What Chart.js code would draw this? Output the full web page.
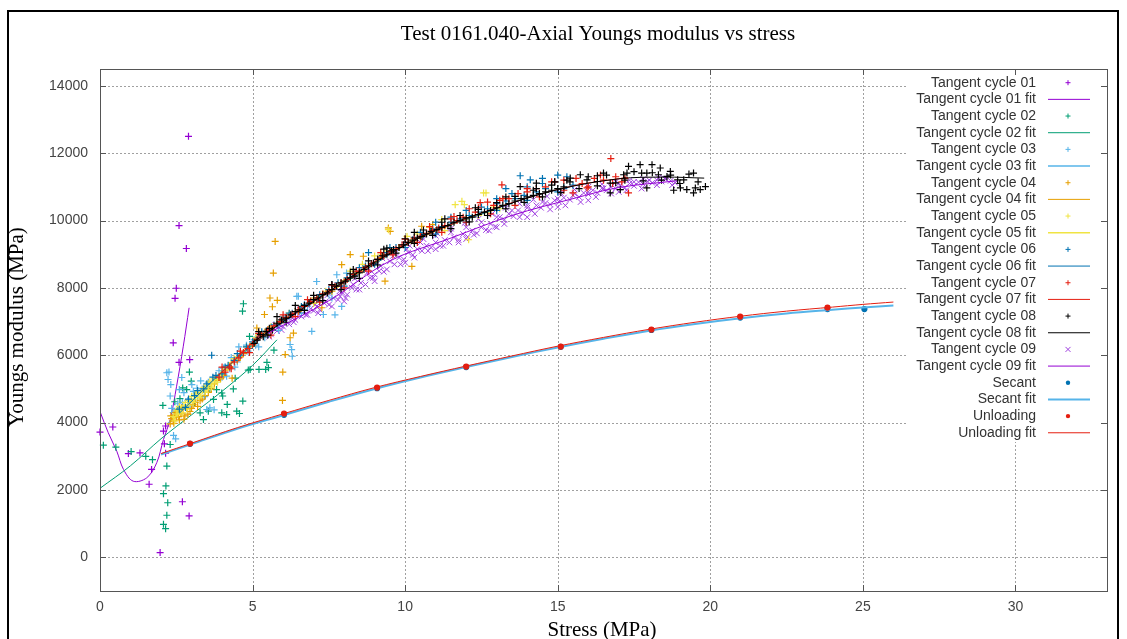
<!DOCTYPE html>
<html>
<head>
<meta charset="utf-8">
<script src="https://cdn.jsdelivr.net/npm/chart.js@4.4.1/dist/chart.umd.min.js"></script>
<style>
  html, body { margin: 0; padding: 0; background: #fff; }
  canvas { display: block; }
</style>
</head>
<body>
<canvas id="chart" width="1127" height="639"></canvas>
<script>
// axis ticks
const xTicks = [0, 5, 10, 15, 20, 25, 30];
const yTicks = [0, 2000, 4000, 6000, 8000, 10000, 12000, 14000];

// [stress MPa, modulus MPa]
const cycle01 = [[0.00,3720],[0.42,3870],[0.93,3080],[1.31,3100],[1.61,2170],[1.69,2610],[1.97,140],[2.08,3750],[2.11,3370],[2.15,3090],[2.15,3900],[2.40,6370],[2.46,7690],[2.50,7990],[2.59,5790],[2.59,9850],[2.70,1650],[2.83,9170],[2.90,12500],[2.92,1230],[2.94,5870]];
const cycle01Fit = [[0,4330],[0.27,3700],[0.55,3150],[0.77,2610],[1.09,2260],[1.53,2360],[1.86,2810],[2.08,3500],[2.3,4090],[2.51,5080],[2.73,6270],[2.92,7410]];

const cycle02 = [[0.11,3330],[0.52,3270],[1.02,3140],[1.50,3000],[1.72,2900],[2.06,4510],[2.08,1890],[2.08,980],[2.15,850],[2.16,2120],[2.19,2710],[2.19,1250],[2.22,1620],[2.30,3350],[2.45,4620],[2.55,4380],[2.62,4710],[2.71,5030],[2.84,4980],[2.93,5500],[2.99,5230],[3.10,4600],[3.28,4290],[3.39,4090],[3.50,5080],[3.55,4340],[3.60,5000],[3.72,4690],[3.82,4980],[3.99,4290],[3.99,4880],[4.02,4790],[4.15,4240],[4.17,4540],[4.37,5000],[4.43,5320],[4.48,4340],[4.57,4270],[4.67,7310],[4.68,4640],[4.70,7530],[4.86,5560],[4.90,6560],[4.92,5580],[5.21,5580],[5.43,5580],[5.47,5790],[5.52,5630],[5.70,6150]];
const cycle02Fit = [[0,2050],[1,2720],[2,3520],[3,4230],[4,4930],[5,5700],[5.8,6460]];

const cycle03 = [[2.19,5480],[2.23,5280],[2.26,5500],[2.30,4790],[2.32,5130],[2.35,4420],[2.40,4300],[2.41,3620],[2.48,3520],[2.51,4340],[2.55,4560],[2.60,4980],[2.68,5340],[2.70,4600],[2.75,4890],[2.88,4660],[2.95,4500],[3.01,5130],[3.06,4930],[3.18,5020],[3.20,4750],[3.30,5240],[3.35,5000],[3.42,4770],[3.50,4390],[3.55,5200],[3.60,4440],[3.74,4380],[3.80,5300],[3.90,5540],[4.00,5350],[4.05,5620],[4.15,5380],[4.25,5600],[4.30,5930],[4.42,5650],[4.50,5800],[4.55,6250],[4.70,6050],[4.80,6300],[4.85,6120],[5.05,6460],[5.10,6300],[5.20,6250],[5.40,6520],[5.50,6650],[5.62,6850],[5.85,6740],[5.90,6950],[6.05,7080],[6.20,7150],[6.23,6320],[6.28,6170],[6.30,5970],[6.45,7750],[6.50,7750],[6.60,7250],[6.70,7350],[6.80,7460],[6.94,6710],[7.10,8190],[7.20,7600],[7.32,7210],[7.50,7820],[7.60,7700],[7.70,7200],[7.76,8390],[7.92,7450],[8.08,8440]];
const cycle03Fit = [[2.2,3950],[3.0,4650],[4.0,5500],[5.0,6330],[6.0,7040],[7.0,7600],[8.0,8150]];

const cycle04 = [[2.30,3960],[2.32,4200],[2.35,4120],[2.40,4050],[2.42,3980],[2.45,4230],[2.48,4300],[2.50,4150],[2.55,4310],[2.58,4180],[2.60,4080],[2.65,4260],[2.68,4450],[2.72,4390],[2.75,4100],[2.78,4200],[2.85,4420],[2.88,4250],[2.95,4330],[3.00,4420],[3.05,4540],[3.12,4600],[3.20,4480],[3.28,4650],[3.35,4700],[3.45,4800],[3.55,4900],[3.65,5000],[3.75,5150],[3.85,5250],[3.95,5300],[4.05,5400],[4.10,5560],[4.25,5650],[4.33,5320],[4.50,5850],[4.60,5950],[4.70,6050],[4.90,6250],[5.00,6300],[5.10,6480],[5.14,6810],[5.30,6650],[5.39,7210],[5.50,6700],[5.57,7700],[5.65,7440],[5.68,8440],[5.74,9380],[5.81,7630],[5.98,4660],[5.99,5500],[6.00,7050],[6.07,6020],[6.23,6520],[6.34,6660],[6.50,7300],[7.00,7550],[7.00,7700],[7.27,7410],[7.60,7900],[7.92,8690],[8.00,8200],[8.20,8990],[8.50,8450],[8.63,8940],[8.80,8650],[9.20,8900],[9.34,8200],[9.45,9780],[9.51,9680],[9.60,9100],[9.80,9200],[10.22,8640],[10.30,9400],[10.50,9500],[10.54,9830],[10.90,9880]];
const cycle04Fit = [[2.3,4030],[3.5,5080],[5.0,6360],[6.5,7330],[8.0,8150],[9.5,9030],[10.9,9700]];

const cycle05 = [[2.40,4180],[2.45,4050],[2.50,4350],[2.55,4250],[2.60,4480],[2.65,4400],[2.70,4290],[2.75,4500],[2.80,4600],[2.85,4400],[2.90,4520],[2.95,4650],[3.00,4780],[3.05,4600],[3.10,4700],[3.15,4850],[3.20,4900],[3.25,4750],[3.30,4820],[3.35,4950],[3.40,5050],[3.45,4900],[3.50,4980],[3.55,5100],[3.60,5230],[3.65,5050],[3.70,5150],[3.75,5300],[3.80,5280],[3.85,5200],[3.95,5420],[4.00,5450],[4.10,5600],[4.20,5650],[4.30,5780],[4.40,5900],[4.50,5950],[4.60,6050],[4.80,6250],[5.00,6350],[5.10,6520],[5.40,6700],[5.60,6850],[5.80,6950],[6.20,7250],[6.40,7300],[6.60,7450],[7.00,7550],[7.20,7750],[7.40,7900],[7.80,8100],[8.20,8500],[8.40,8450],[8.60,8700],[9.00,8950],[9.20,9000],[9.40,9100],[9.45,9730],[9.80,9200],[10.06,9530],[10.20,9400],[10.40,9600],[10.80,9800],[11.00,9700],[11.20,10030],[11.30,9700],[11.64,10470],[11.86,10570],[11.94,10470],[12.00,10050],[12.08,9430],[12.40,10150],[12.57,10820],[12.65,10820],[12.70,10250],[12.90,10400],[13.10,10350]];
const cycle05Fit = [[2.4,4120],[4.0,5500],[6.0,7040],[8.0,8150],[10.0,9280],[11.5,9870],[13.1,10380]];

const cycle06 = [[2.60,4400],[2.80,4450],[2.90,4700],[3.10,4800],[3.20,4950],[3.40,5000],[3.50,5150],[3.66,6000],[3.70,5350],[3.80,5400],[4.00,5450],[4.10,5650],[4.20,5700],[4.40,5850],[4.50,6050],[4.60,6000],[4.80,6250],[4.90,6200],[5.00,6400],[5.20,6520],[5.30,6700],[5.45,6720],[5.70,6900],[5.80,6900],[6.00,7100],[6.20,7250],[6.30,7250],[6.60,7450],[6.70,7500],[6.90,7600],[7.10,7650],[7.20,7800],[7.50,7950],[7.60,8100],[7.80,8150],[8.00,8050],[8.10,8300],[8.40,8500],[8.50,8600],[8.70,8650],[8.80,9050],[9.00,8700],[9.10,8850],[9.40,9050],[9.50,9200],[9.70,9200],[10.00,9350],[10.00,9200],[10.30,9500],[10.50,9650],[10.60,9580],[10.90,9750],[11.00,9600],[11.00,9950],[11.20,9820],[11.50,9950],[11.50,10100],[11.80,10050],[12.00,9950],[12.00,10300],[12.10,10150],[12.40,10250],[12.50,10400],[12.70,10350],[13.00,10500],[13.00,10300],[13.00,10650],[13.30,10580],[13.30,10950],[13.50,10800],[13.60,10650],[13.77,11330],[13.90,10750],[14.00,10600],[14.00,11000],[14.10,11210],[14.30,10850],[14.50,11100],[14.50,11250],[14.60,10950],[14.90,11150],[15.00,11350],[15.00,10850],[15.20,10950],[15.30,11300],[15.50,11050]];
const cycle06Fit = [[2.6,4280],[4.5,5920],[6.5,7330],[8.5,8420],[10.5,9510],[12.5,10190],[14.0,10670],[15.5,11030]];

const cycle07 = [[3.90,5350],[4.00,5650],[4.10,5500],[4.25,5650],[4.30,5600],[4.40,5800],[4.55,5920],[4.60,6120],[4.70,6080],[4.85,6200],[4.90,6080],[5.00,6330],[5.15,6480],[5.20,6650],[5.30,6600],[5.50,6750],[5.60,6600],[5.70,6870],[5.90,7000],[6.00,7200],[6.10,7120],[6.30,7220],[6.40,7150],[6.50,7350],[6.70,7450],[6.80,7650],[6.90,7600],[7.10,7700],[7.20,7580],[7.30,7820],[7.50,7900],[7.60,8080],[7.70,8050],[7.90,8150],[8.00,8000],[8.10,8250],[8.30,8400],[8.40,8500],[8.50,8480],[8.70,8600],[8.80,8500],[8.90,8720],[9.10,8850],[9.20,9050],[9.30,8950],[9.50,9080],[9.60,8980],[9.70,9150],[9.90,9280],[10.00,9450],[10.10,9350],[10.30,9480],[10.40,9350],[10.50,9530],[10.70,9620],[10.80,9820],[10.90,9700],[11.10,9780],[11.20,9650],[11.30,9850],[11.50,10050],[11.60,10120],[11.70,10000],[11.90,10100],[12.00,9950],[12.10,10350],[12.30,10250],[12.40,10380],[12.46,10530],[12.70,10550],[12.80,10200],[12.90,10450],[13.10,10600],[13.17,11060],[13.20,10650],[13.40,10650],[13.60,10450],[13.70,10800],[14.00,10850],[14.00,10950],[14.30,10950],[14.40,10700],[14.60,11000],[14.80,11150],[14.90,11150],[15.20,11200],[15.20,10900],[15.50,10820],[15.60,11250],[15.80,11100],[15.96,10970],[16.00,11000],[16.20,11250],[16.40,11350],[16.50,11200],[16.74,11840],[16.80,11100],[16.90,11300],[17.10,11150],[17.20,11250],[17.32,10820]];
const cycle07Fit = [[3.9,5420],[5.5,6740],[7.5,7870],[9.5,9060],[11.5,9880],[13.5,10530],[15.5,11030],[17.3,11280]];

const cycle08 = [[5.05,6350],[5.15,6450],[5.20,6700],[5.25,6610],[5.35,6550],[5.45,6700],[5.50,6600],[5.55,6800],[5.65,6750],[5.80,6950],[5.80,7150],[5.95,7050],[6.10,7100],[6.10,6980],[6.25,7200],[6.40,7300],[6.40,7480],[6.55,7350],[6.70,7480],[6.70,7330],[6.85,7550],[7.00,7650],[7.00,7780],[7.15,7700],[7.30,7800],[7.30,7620],[7.45,7850],[7.60,7950],[7.60,8100],[7.75,8050],[7.90,8150],[7.90,7950],[8.05,8200],[8.20,8300],[8.20,8420],[8.30,8550],[8.35,8350],[8.50,8450],[8.50,8280],[8.65,8550],[8.80,8650],[8.80,8800],[8.96,8740],[9.10,8850],[9.10,8680],[9.25,8950],[9.30,9150],[9.40,9000],[9.40,9180],[9.55,9100],[9.62,9140],[9.70,9030],[9.80,9200],[9.95,9280],[10.00,9460],[10.10,9350],[10.25,9420],[10.30,9320],[10.30,9650],[10.40,9480],[10.55,9530],[10.60,9720],[10.70,9600],[10.85,9680],[10.90,9560],[11.04,9730],[11.20,9800],[11.20,9950],[11.30,10050],[11.40,9850],[11.50,9760],[11.60,9950],[11.80,10000],[11.80,10150],[12.00,10080],[12.10,9960],[12.20,10100],[12.30,10380],[12.40,10180],[12.40,10330],[12.60,10250],[12.70,10150],[12.80,10300],[13.00,10380],[13.00,10530],[13.20,10450],[13.30,10350],[13.30,10700],[13.40,10500],[13.60,10580],[13.60,10720],[13.77,11010],[13.80,10650],[13.90,10540],[14.00,10700],[14.20,10750],[14.20,10900],[14.30,11110],[14.30,10950],[14.40,10800],[14.50,10700],[14.60,10850],[14.80,10900],[14.80,11050],[14.90,11150],[15.00,10950],[15.10,10830],[15.20,11000],[15.30,11200],[15.40,11150],[15.41,11260],[15.70,10950],[15.74,11360],[15.96,11210],[16.00,11300],[16.30,11160],[16.30,11030],[16.30,11330],[16.50,11410],[16.60,11350],[16.72,11110],[16.72,10820],[16.90,11120],[17.05,10920],[17.16,11360],[17.20,11200],[17.27,11410],[17.32,11610],[17.50,11450],[17.70,11660],[17.75,11410],[17.80,11180],[17.92,11410],[17.92,10970],[18.09,11660],[18.10,11420],[18.30,11360],[18.36,11560],[18.40,11200],[18.58,11310],[18.69,11460],[18.70,11350],[18.80,10900],[18.93,11210],[19.00,11100],[19.02,10970],[19.13,11210],[19.23,10920],[19.30,11380],[19.45,11410],[19.45,10820],[19.51,10970],[19.60,11150],[19.67,10920],[19.84,11010]];
const cycle08Fit = [[5.0,6380],[7.0,7600],[9.0,8760],[11.0,9720],[13.0,10370],[15.0,10920],[17.0,11240],[18.5,11290],[19.8,11260]];

const cycle09 = [[5.50,6700],[5.55,6550],[5.60,6620],[5.70,6800],[5.75,6900],[5.80,6720],[5.90,6900],[5.95,6750],[6.00,6850],[6.10,7000],[6.15,7150],[6.20,6920],[6.30,7100],[6.35,6980],[6.40,7050],[6.50,7200],[6.55,7350],[6.60,7150],[6.70,7300],[6.75,7200],[6.80,7200],[6.90,7380],[6.95,7550],[7.00,7320],[7.05,7520],[7.10,7450],[7.15,7250],[7.20,7350],[7.35,7550],[7.40,7600],[7.45,7780],[7.50,7500],[7.60,7450],[7.65,7700],[7.80,7650],[7.85,7900],[7.87,7750],[7.90,8020],[7.95,7850],[8.00,7600],[8.05,7700],[8.10,7800],[8.25,8000],[8.30,8100],[8.35,8280],[8.40,7950],[8.50,7950],[8.55,8150],[8.70,8100],[8.75,8450],[8.80,8580],[8.85,8300],[8.95,8300],[9.00,8400],[9.00,8200],[9.15,8500],[9.20,8650],[9.25,8880],[9.30,8480],[9.40,8550],[9.50,8790],[9.60,8950],[9.65,8700],[9.70,9050],[9.80,8900],[9.85,8700],[9.95,8850],[10.00,8750],[10.05,9150],[10.10,9050],[10.15,9250],[10.25,8980],[10.30,8900],[10.40,9150],[10.50,9350],[10.55,9100],[10.60,9450],[10.70,9250],[10.75,9100],[10.85,9200],[11.00,9350],[11.00,9550],[11.00,9150],[11.05,9620],[11.15,9250],[11.25,9250],[11.30,9420],[11.45,9350],[11.50,9650],[11.50,9760],[11.60,9500],[11.75,9420],[11.75,9350],[11.90,9600],[11.95,9930],[12.00,9800],[12.00,9450],[12.05,9520],[12.20,9700],[12.25,9580],[12.35,9620],[12.40,10050],[12.50,9800],[12.50,9950],[12.65,9720],[12.75,9700],[12.80,9900],[12.85,10200],[12.95,9820],[13.00,10100],[13.00,9800],[13.10,10100],[13.25,10020],[13.25,9900],[13.30,10380],[13.40,10200],[13.50,10300],[13.55,10130],[13.70,10300],[13.75,10100],[13.75,10500],[13.85,10220],[14.00,10380],[14.00,10450],[14.00,10100],[14.15,10300],[14.20,10620],[14.25,10200],[14.30,10450],[14.45,10380],[14.50,10550],[14.60,10520],[14.65,10720],[14.75,10480],[14.75,10330],[14.90,10600],[15.00,10650],[15.00,10400],[15.05,10550],[15.10,10820],[15.20,10680],[15.25,10450],[15.40,10620],[15.50,10750],[15.55,10800],[15.55,10920],[15.70,10700],[15.75,10550],[15.85,10820],[16.00,10780],[16.00,10850],[16.00,11000],[16.00,10600],[16.15,10900],[16.25,10700],[16.30,10820],[16.45,10960],[16.45,11080],[16.50,10950],[16.60,10900],[16.75,11000],[16.75,10800],[16.90,10950],[16.90,11150],[17.00,11100],[17.00,10850],[17.05,11050],[17.20,10980],[17.25,10900],[17.35,11100],[17.35,11200],[17.50,11030],[17.50,11150],[17.65,11140],[17.75,10950],[17.80,11080],[17.80,11230],[17.95,11160],[18.00,11200],[18.10,11120],[18.25,11200],[18.25,11050],[18.30,11270],[18.40,11160],[18.50,11250],[18.55,11230],[18.70,11180],[18.75,11050],[18.85,11120]];
const cycle09Fit = [[5.5,6650],[7.5,7620],[9.5,8800],[11.5,9480],[13.5,10150],[15.5,10650],[17.0,10980],[18.9,11180]];

const secant = [[2.95,3370],[6.03,4230],[9.08,5020],[12.00,5650],[15.10,6250],[18.07,6750],[20.98,7120],[23.84,7370],[25.05,7370]];
const secantFit = [[2.0,3050],[3.0,3360],[4.5,3820],[6.0,4220],[7.5,4620],[9.0,5000],[10.5,5340],[12.0,5650],[13.5,5950],[15.0,6230],[16.5,6490],[18.0,6730],[19.5,6930],[21.0,7100],[22.5,7240],[24.0,7350],[25.0,7420],[26.0,7480]];
const unloading = [[2.95,3380],[6.03,4270],[9.08,5040],[12.00,5665],[15.10,6258],[18.07,6762],[20.98,7148],[23.84,7415]];
const unloadingFit = [[2.0,3080],[3.0,3390],[4.5,3850],[6.0,4260],[7.5,4660],[9.0,5040],[10.5,5370],[12.0,5680],[13.5,5980],[15.0,6270],[16.5,6530],[18.0,6770],[19.5,6980],[21.0,7160],[22.5,7310],[24.0,7430],[25.0,7510],[26.0,7580]];

const toXY = list => list.map(p => ({ x: p[0], y: p[1] }));

function marks(label, list, color, style, radius, width) {
  return {
    label, data: toXY(list), showLine: false,
    pointStyle: style, pointRadius: radius, pointHoverRadius: radius,
    borderColor: color, backgroundColor: color, pointBorderWidth: width || 1.2, clip: false
  };
}
function fitLine(label, list, color, width) {
  return {
    label, data: toXY(list), showLine: true, pointRadius: 0,
    borderColor: color, backgroundColor: color, borderWidth: width, tension: 0.35
  };
}

const datasets = [
  marks('Tangent cycle 01', cycle01, '#9400D3', 'cross', 3.5),
  fitLine('Tangent cycle 01 fit', cycle01Fit, '#9400D3', 1),
  marks('Tangent cycle 02', cycle02, '#009E73', 'cross', 3.5),
  fitLine('Tangent cycle 02 fit', cycle02Fit, '#009E73', 1),
  marks('Tangent cycle 03', cycle03, '#56B4E9', 'cross', 3.5),
  fitLine('Tangent cycle 03 fit', cycle03Fit, '#56B4E9', 1.5),
  marks('Tangent cycle 04', cycle04, '#E69F00', 'cross', 3.5),
  fitLine('Tangent cycle 04 fit', cycle04Fit, '#E69F00', 1),
  marks('Tangent cycle 05', cycle05, '#F0E442', 'cross', 3.5),
  fitLine('Tangent cycle 05 fit', cycle05Fit, '#F0E442', 1.5),
  marks('Tangent cycle 06', cycle06, '#0072B2', 'cross', 3.5),
  fitLine('Tangent cycle 06 fit', cycle06Fit, '#0072B2', 1),
  marks('Tangent cycle 07', cycle07, '#E51E10', 'cross', 3.5),
  fitLine('Tangent cycle 07 fit', cycle07Fit, '#E51E10', 1),
  marks('Tangent cycle 08', cycle08, '#000000', 'cross', 3.5),
  fitLine('Tangent cycle 08 fit', cycle08Fit, '#000000', 1),
  marks('Tangent cycle 09', cycle09, '#A040E0', 'crossRot', 4, 1),
  fitLine('Tangent cycle 09 fit', cycle09Fit, '#9400D3', 1),
  marks('Secant', secant, '#0072B2', 'circle', 2.5),
  fitLine('Secant fit', secantFit, '#56B4E9', 2),
  marks('Unloading', unloading, '#E51E10', 'circle', 2.5),
  fitLine('Unloading fit', unloadingFit, '#E51E10', 1)
];
// later plots on top, except the dense cycle 09 crosses which sit under the band
datasets.forEach((ds, i) => { ds.order = 100 - i; });
datasets[16].order = 200;

const box = { left: 100, right: 1107, top: 69, bottom: 591 };

const gnuplotLook = {
  id: 'gnuplotLook',
  beforeDatasetsDraw(chart) {
    // dotted grid
    const ctx = chart.ctx;
    const xs = chart.scales.x, ys = chart.scales.y;
    ctx.save();
    ctx.strokeStyle = '#a0a0a0';
    ctx.lineWidth = 1;
    ctx.setLineDash([2, 2]);
    ctx.beginPath();
    xTicks.forEach(v => {
      const px = Math.round(xs.getPixelForValue(v)) + 0.5;
      ctx.moveTo(px, box.top); ctx.lineTo(px, box.bottom);
    });
    yTicks.forEach(v => {
      const py = Math.round(ys.getPixelForValue(v)) + 0.5;
      ctx.moveTo(box.left, py); ctx.lineTo(box.right, py);
    });
    ctx.stroke();
    ctx.restore();
  },
  afterDraw(chart) {
    const ctx = chart.ctx;
    const xs = chart.scales.x, ys = chart.scales.y;
    ctx.save();

    // key, opaque like gnuplot's
    ctx.fillStyle = '#fff';
    ctx.fillRect(906, 73, 196, 369);
    ctx.font = '14px "Liberation Sans", Arial, sans-serif';
    ctx.textAlign = 'right';
    ctx.textBaseline = 'middle';
    chart.data.datasets.forEach((ds, i) => {
      const y = 82.7 + i * 16.67;
      ctx.fillStyle = '#333';
      ctx.fillText(ds.label, 1036, y);
      ctx.strokeStyle = ds.borderColor;
      ctx.fillStyle = ds.borderColor;
      ctx.lineWidth = ds.showLine ? ds.borderWidth : 1;
      ctx.beginPath();
      if (ds.showLine) {
        ctx.moveTo(1048, y); ctx.lineTo(1090, y); ctx.stroke();
      } else if (ds.pointStyle === 'cross') {
        ctx.moveTo(1065.5, y); ctx.lineTo(1070.5, y);
        ctx.moveTo(1068, y - 2.5); ctx.lineTo(1068, y + 2.5); ctx.stroke();
      } else if (ds.pointStyle === 'crossRot') {
        ctx.moveTo(1065.5, y - 2.5); ctx.lineTo(1070.5, y + 2.5);
        ctx.moveTo(1065.5, y + 2.5); ctx.lineTo(1070.5, y - 2.5); ctx.stroke();
      } else {
        ctx.arc(1068, y, 2.2, 0, Math.PI * 2); ctx.fill();
      }
    });

    // plot border and inward tick marks
    ctx.strokeStyle = '#555';
    ctx.lineWidth = 1;
    ctx.strokeRect(box.left + 0.5, box.top + 0.5, box.right - box.left, box.bottom - box.top);
    ctx.beginPath();
    xTicks.forEach(v => {
      const px = Math.round(xs.getPixelForValue(v)) + 0.5;
      ctx.moveTo(px, box.bottom); ctx.lineTo(px, box.bottom - 6);
      ctx.moveTo(px, box.top); ctx.lineTo(px, box.top + 6);
    });
    yTicks.forEach(v => {
      const py = Math.round(ys.getPixelForValue(v)) + 0.5;
      ctx.moveTo(box.left, py); ctx.lineTo(box.left + 6, py);
      ctx.moveTo(box.right, py); ctx.lineTo(box.right - 6, py);
    });
    ctx.stroke();

    // outer frame
    ctx.strokeStyle = '#000';
    ctx.lineWidth = 2;
    ctx.beginPath();
    ctx.moveTo(8, 660); ctx.lineTo(8, 11); ctx.lineTo(1118, 11); ctx.lineTo(1118, 660);
    ctx.stroke();

    // titles
    ctx.fillStyle = '#000';
    ctx.font = '21px "Liberation Serif", "Times New Roman", serif';
    ctx.textAlign = 'center';
    ctx.textBaseline = 'alphabetic';
    ctx.fillText('Test 0161.040-Axial Youngs modulus vs stress', 598, 40);
    ctx.fillText('Stress (MPa)', 602, 636);
    ctx.translate(23, 327);
    ctx.rotate(-Math.PI / 2);
    ctx.fillText('Youngs modulus (MPa)', 0, 0);
    ctx.restore();
  }
};

const tickFont = { family: '"Liberation Sans", Arial, sans-serif', size: 14 };

new Chart(document.getElementById('chart'), {
  type: 'scatter',
  data: { datasets },
  options: {
    responsive: false,
    animation: false,
    events: [],
    layout: { padding: { left: 0, top: box.top, right: 1127 - box.right, bottom: 0 } },
    plugins: { legend: { display: false }, title: { display: false }, tooltip: { enabled: false } },
    scales: {
      x: {
        type: 'linear', min: 0, max: 33,
        afterFit: s => { s.height = 639 - box.bottom; },
        afterBuildTicks: s => { s.ticks = xTicks.map(v => ({ value: v })); },
        grid: { display: false, drawTicks: false },
        border: { display: false },
        ticks: { font: tickFont, color: '#444', padding: 8, maxRotation: 0, callback: v => String(v) }
      },
      y: {
        type: 'linear', min: -1000, max: 14500,
        afterFit: s => { s.width = box.left; },
        afterBuildTicks: s => { s.ticks = yTicks.map(v => ({ value: v })); },
        grid: { display: false, drawTicks: false },
        border: { display: false },
        ticks: { font: tickFont, color: '#444', padding: 12, callback: v => String(v) }
      }
    }
  },
  plugins: [gnuplotLook]
});
</script>
</body>
</html>
